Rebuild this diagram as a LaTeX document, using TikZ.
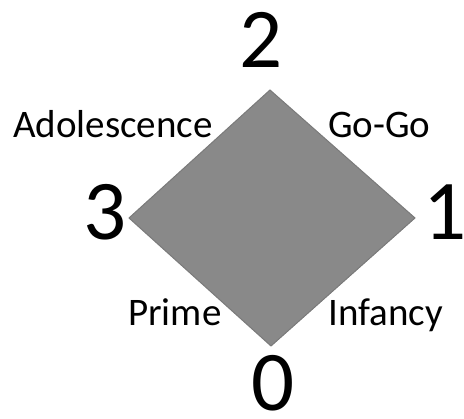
\documentclass[tikz,border=0pt]{standalone}
\usepackage{fontspec}
\setmainfont{Carlito}
\begin{document}
\begin{tikzpicture}[x=1pt,y=1pt,
  digit/.style={inner sep=0pt,anchor=base,font=\fontsize{85}{85}\selectfont},
  stage/.style={inner sep=0pt,anchor=base west,font=\fontsize{39}{39}\selectfont},
  phase/.style={fill=diafill,draw=diaedge,line width=1pt,line join=miter}]
\definecolor{diafill}{HTML}{898989}
\definecolor{diaedge}{HTML}{7A7A7A}
\useasboundingbox (0,0) rectangle (464,419);
% corners of the square
\coordinate (c0) at (271,73);
\coordinate (c1) at (415,201);
\coordinate (c2) at (270,329);
\coordinate (c3) at (129,201);
\draw[phase] (c0) -- (c1) -- (c2) -- (c3) -- cycle;
% corner numbers
\node[digit] (n2) at (261,351) {2};
\node[digit] (n1) at (445,179) {1};
\node[digit] (n3) at (105,179) {3};
\node[digit] (n0) at (273,8) {0};
% side names
\node[stage] (adol) at (13,281) {Adolescence};
\node[stage] (gogo) at (328,281) {Go-Go};
\node[stage] (prime) at (128,93) {Prime};
\node[stage] (inf) at (328,93) {Infancy};
\end{tikzpicture}
\end{document}
